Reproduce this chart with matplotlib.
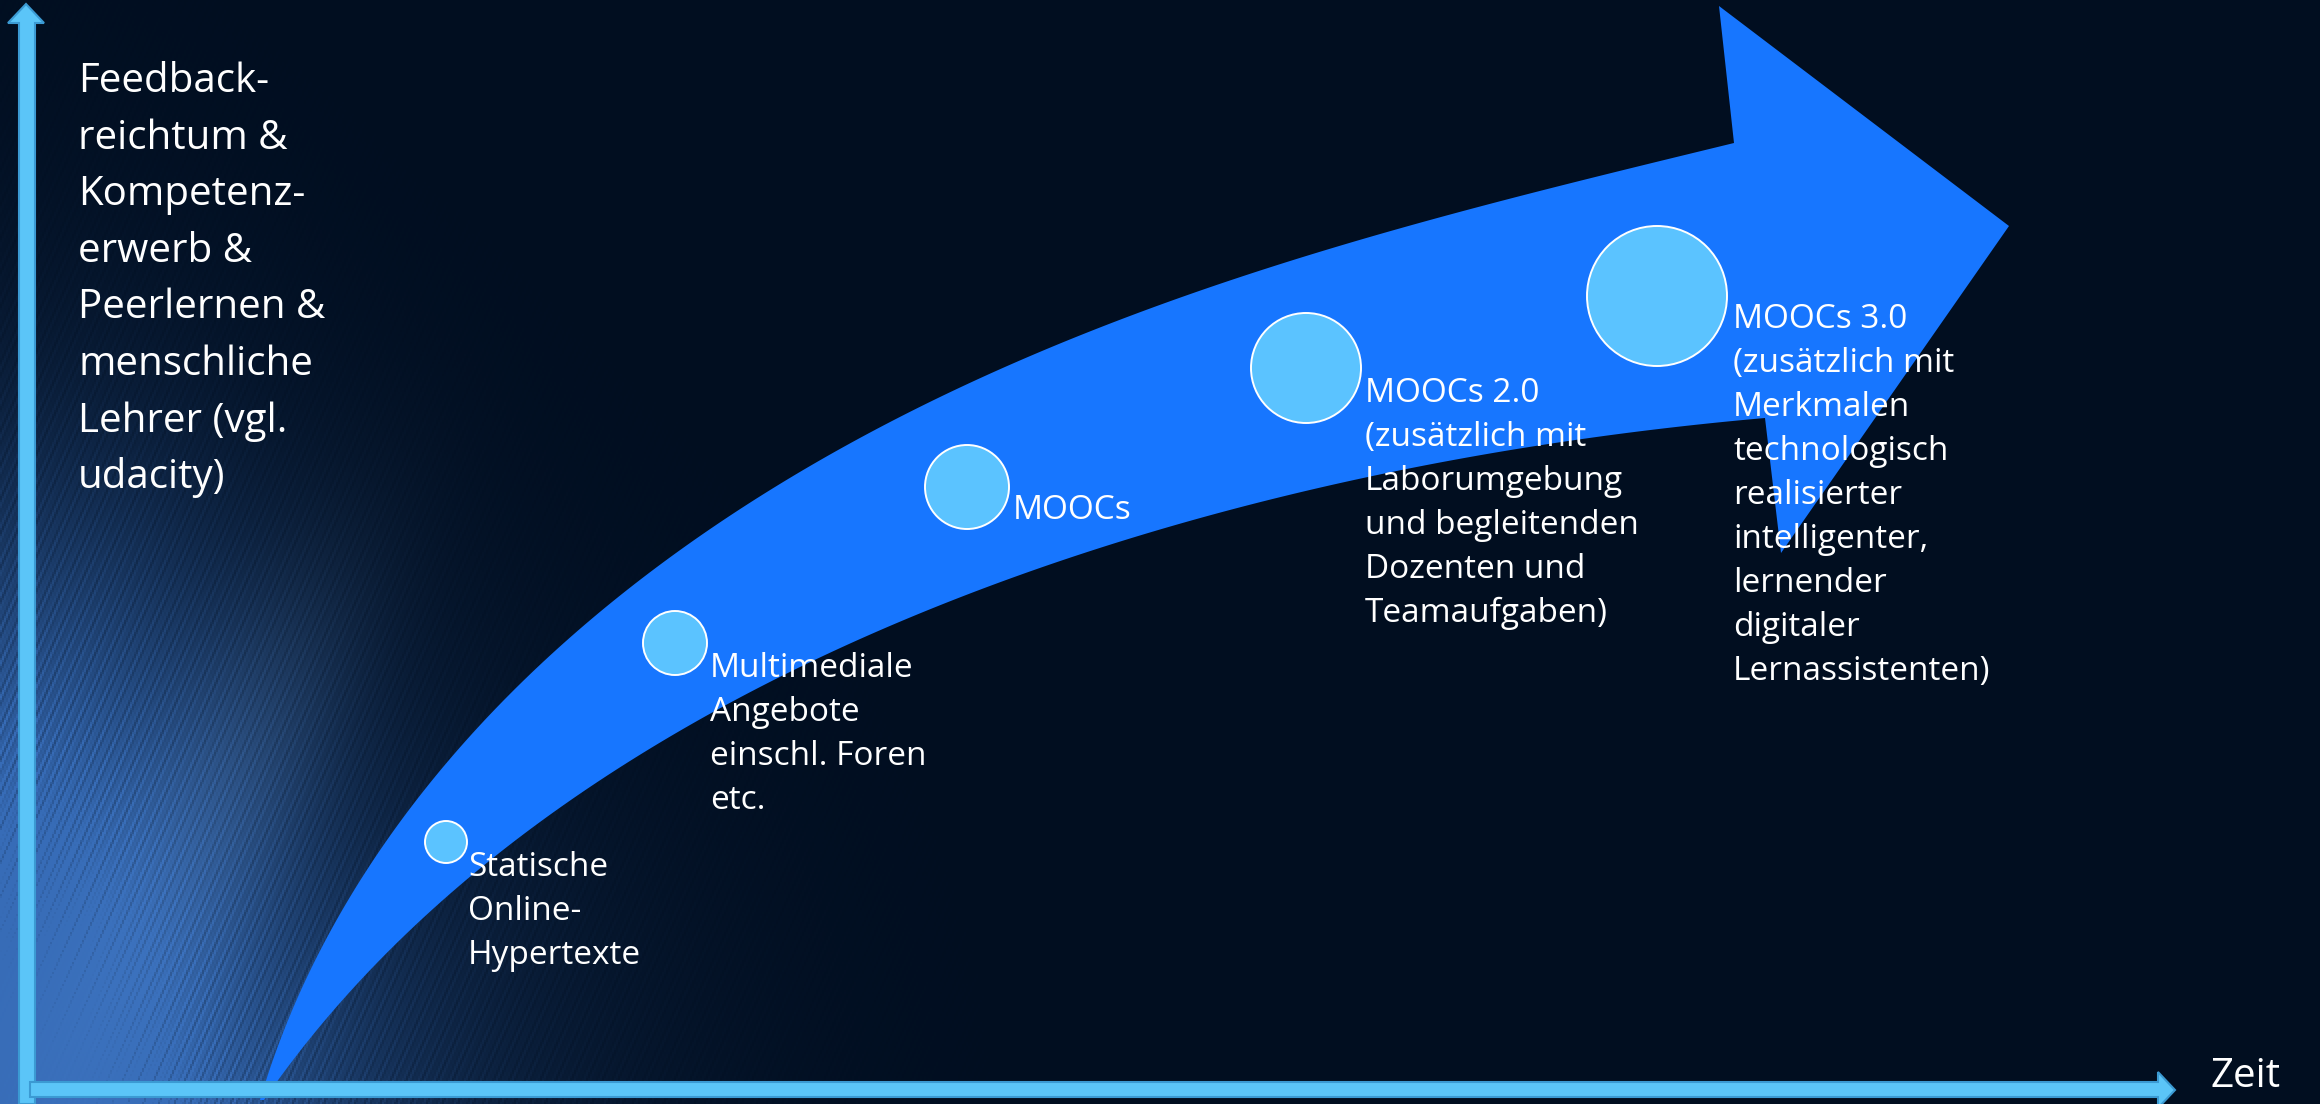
import numpy as np
import matplotlib
matplotlib.use("Agg")
import matplotlib.pyplot as plt
from matplotlib.patches import Polygon, Circle
from math import comb

# canvas in pixel units (y grows downward)
W, H = 2320, 1104

# big curved arrow: points read along its edges (pixel coords)
upper_edge = [(260, 1100), (355, 888), (466, 740), (592, 621), (725, 518), (843, 444),
              (1006, 370), (1184, 296), (1420, 222), (1734, 143)]
arrow_head = [(1719, 6), (2009, 226), (1781, 553)]
lower_edge = [(264, 1100), (288, 1069), (385, 950), (469, 885), (600, 773), (712, 713),
              (823, 660), (957, 600), (1091, 550), (1225, 508), (1500, 454), (1700, 424),
              (1765, 418)]

# stages along the arrow
stage_x = [446, 675, 967, 1306, 1657]
stage_y = [842, 643, 487, 368, 296]
stage_r = [21, 32, 42, 55, 70]
stage_lines = [
    ["Statische", "Online-", "Hypertexte"],
    ["Multimediale", "Angebote", "einschl. Foren", "etc."],
    ["MOOCs"],
    ["MOOCs 2.0", "(zusätzlich mit", "Laborumgebung", "und begleitenden",
     "Dozenten und", "Teamaufgaben)"],
    ["MOOCs 3.0", "(zusätzlich mit", "Merkmalen", "technologisch", "realisierter",
     "intelligenter,", "lernender", "digitaler", "Lernassistenten)"],
]
stage_text_x = [468, 710, 1013, 1365, 1733]
stage_text_y = [876, 677, 519, 402, 328]

ylabel_lines = ["Feedback-", "reichtum &", "Kompetenz-", "erwerb &", "Peerlernen &",
                "menschliche", "Lehrer (vgl.", "udacity)"]
xlabel = "Zeit"

BAND = "#1776ff"
DOT = "#5bc3ff"
AXIS = "#5bc5f8"
AXIS_EDGE = "#3b9ad3"


def smooth_edge(points, deg=4, n=200):
    # least squares Bezier through the read points, ends fixed
    p = np.array(points, dtype=float)
    d = np.r_[0, np.cumsum(np.hypot(*np.diff(p, axis=0).T))]
    t = d / d[-1]
    B = np.array([[comb(deg, k) * ti ** k * (1 - ti) ** (deg - k) for k in range(deg + 1)]
                  for ti in t])
    rhs = p - np.outer(B[:, 0], p[0]) - np.outer(B[:, -1], p[-1])
    inner, *_ = np.linalg.lstsq(B[:, 1:-1], rhs, rcond=None)
    ctrl = np.vstack([p[0], inner, p[-1]])
    tt = np.linspace(0, 1, n)
    Bt = np.array([[comb(deg, k) * ti ** k * (1 - ti) ** (deg - k) for k in range(deg + 1)]
                   for ti in tt])
    return Bt @ ctrl


fig = plt.figure(figsize=(W / 100, H / 100), dpi=100)
ax = fig.add_axes([0, 0, 1, 1])
ax.set_xlim(0, W)
ax.set_ylim(H, 0)
ax.axis("off")

# background: dark navy with a streaky blue glow in the lower left
ys, xs = np.mgrid[0:H:2, 0:W:2].astype(float)
base = np.array([1, 14, 32]) / 255.0
blue = np.array([65, 125, 210]) / 255.0
grey = np.array([70, 100, 135]) / 255.0
rise = 1 / (1 + np.exp(-(ys - 560) / 130))
left = np.exp(-(xs / 260) ** 2) * rise
corner = np.exp(-(np.hypot(xs + 40, ys - 1180) / 470) ** 2)
# greyish diagonal sheen
nx, ny = 357.0, 158.0
dist = ((xs - 128) * nx + (ys - 989) * ny) / np.hypot(nx, ny)
sheen = np.exp(-(dist / 80) ** 2) * rise * np.exp(-((ys - 850) / 300) ** 2)
s = (2.2 * xs + ys) / 2.4
streak = 0.8 + 0.2 * np.sin(s * 1.1) * np.sin(s * 0.23 + 1.0)
gb = np.clip((0.75 * left + 0.75 * corner) * streak, 0, 0.85)
gg = np.clip(0.6 * sheen * streak, 0, 0.6) * (1 - gb)
bg = base * (1 - gb - gg)[..., None] + blue * gb[..., None] + grey * gg[..., None]
ax.imshow(np.clip(bg, 0, 1), extent=(0, W, H, 0), aspect="auto", zorder=0)

# curved arrow
up = smooth_edge(upper_edge)
lo = smooth_edge(lower_edge)
outline = np.vstack([up, np.array(arrow_head), lo[::-1]])
ax.add_patch(Polygon(outline, closed=True, fc=BAND, ec="none", zorder=2))

# axes arrows
yaxis = [(19, H), (19, 23), (8, 23), (26, 4), (44, 23), (35, 23), (35, H)]
xaxis = [(30, 1082), (2158, 1082), (2158, 1072), (2175, 1090), (2158, 1108),
         (2158, 1097), (30, 1097)]
ax.add_patch(Polygon(yaxis, closed=True, fc=AXIS, ec=AXIS_EDGE, lw=1.5, zorder=3))
ax.add_patch(Polygon(xaxis, closed=True, fc=AXIS, ec=AXIS_EDGE, lw=1.5, zorder=3))

font = "Open Sans"
for x, y, rad in zip(stage_x, stage_y, stage_r):
    ax.add_patch(Circle((x, y), rad, fc=DOT, ec="white", lw=1.4, zorder=4))

for x0, y0, lines in zip(stage_text_x, stage_text_y, stage_lines):
    for i, line in enumerate(lines):
        ax.text(x0, y0 + i * 44, line, color="white", fontsize=24, family=font,
                ha="left", va="baseline", zorder=5)

for i, line in enumerate(ylabel_lines):
    ax.text(78, 92 + i * 56.6, line, color="white", fontsize=29, family=font,
            ha="left", va="baseline", zorder=5)

ax.text(2210, 1087, xlabel, color="white", fontsize=29, family=font,
        ha="left", va="baseline", zorder=5)

fig.savefig("out.png", dpi=100, facecolor="#010f21")
